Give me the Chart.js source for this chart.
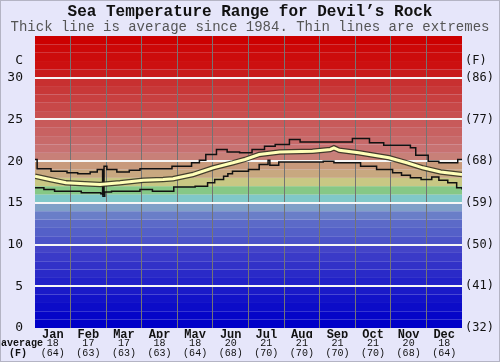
<!DOCTYPE html>
<html>
<head>
<meta charset="utf-8">
<script src="https://cdn.jsdelivr.net/npm/chart.js@4"></script>
<style>
  html, body { margin: 0; padding: 0; background: #e6e6fa; }
</style>
</head>
<body>
<canvas id="seaTemp" width="500" height="362"></canvas>
<script>
// MONTH LABELS AND MONTHLY AVERAGES
const months = ['Jan', 'Feb', 'Mar', 'Apr', 'May', 'Jun', 'Jul', 'Aug', 'Sep', 'Oct', 'Nov', 'Dec'];
const avgC = [18, 17, 17, 18, 18, 20, 21, 21, 21, 21, 20, 18];
const avgF = [64, 63, 63, 63, 64, 68, 70, 70, 70, 70, 68, 64];

// Y TICKS (C on the left, F on the right)
const cTicks = [0, 5, 10, 15, 20, 25, 30];
const fTicks = ['(32)', '(41)', '(50)', '(59)', '(68)', '(77)', '(86)'];

// DAILY LINES, x is position in months (0 = 1 Jan, 12 = 31 Dec)
const maxX = [0.00, 0.06, 0.45, 0.90, 1.20, 1.55, 1.75, 1.90, 1.94, 2.02, 2.30, 2.65, 2.95, 3.50, 3.85, 4.40, 4.62, 4.80,
              5.10, 5.40, 5.75, 6.10, 6.45, 6.75, 7.15, 7.45, 8.10, 8.92, 9.40, 9.80, 10.55, 10.70, 11.05, 11.35, 11.88, 12.00];
const maxT = [20.2, 19.1, 18.8, 18.6, 18.5, 18.7, 19.0, 16.0, 19.4, 19.0, 18.7, 18.9, 19.1, 19.1, 19.4, 19.8, 20.1, 20.8,
              21.4, 21.1, 21.0, 21.4, 21.8, 22.0, 22.6, 22.3, 22.3, 22.7, 22.2, 21.9, 21.6, 20.7, 20.0, 19.8, 20.2, 20.2];

const avgX = [0.00, 0.42, 0.87, 1.40, 1.83, 2.39, 3.04, 3.60, 3.88, 4.44, 5.00, 5.56, 5.90, 6.30, 6.88, 7.80,
              8.30, 8.40, 8.55, 9.10, 9.95, 10.45, 10.90, 11.40, 12.00];
const avgT = [18.2, 17.8, 17.4, 17.3, 17.2, 17.4, 17.7, 17.8, 17.9, 18.4, 19.2, 19.8, 20.2, 20.8, 21.1, 21.2,
              21.4, 21.6, 21.3, 21.0, 20.4, 19.8, 19.2, 18.7, 18.4];

const minX = [0.00, 0.25, 0.55, 1.30, 1.85, 1.91, 1.96, 2.15, 2.95, 3.30, 3.90, 4.50, 4.85, 5.05, 5.30, 5.42, 5.55, 6.00, 6.30,
              6.55, 6.60, 6.85, 8.10, 8.40, 9.15, 9.60, 10.05, 10.30, 10.55, 10.85, 11.15, 11.35, 11.60, 11.85, 12.00];
const minT = [16.8, 16.6, 16.4, 16.2, 16.1, 15.8, 16.3, 16.4, 16.6, 16.4, 16.9, 17.0, 17.4, 17.8, 18.2, 18.5, 18.8, 19.0, 19.6,
              20.1, 19.5, 19.9, 20.0, 19.8, 19.4, 19.0, 18.6, 18.3, 18.0, 17.8, 18.1, 17.7, 17.4, 16.8, 16.6];

// one colour per degree, 0-1 at the start
const bandColors = [
  '#0000c8', '#0606c8', '#0c0cc8', '#1212c8', '#1a1ac8',
  '#2222c8', '#2a2ac8', '#3232c8', '#3a3ac8', '#4444c8',
  '#4c54c8', '#5460c8', '#5c6ac8', '#6a7ec8', '#80a0c8',
  '#80c8c8', '#86c886', '#c8c884', '#c8a880', '#c89a7c',
  '#c88078', '#c87272', '#c86a6a', '#c86262', '#c85a5a',
  '#c85050', '#c84848', '#c84040', '#c83838', '#c83030',
  '#c81c1c', '#cc1010', '#cc0c0c', '#cc0808', '#cc0000'
];

const pts = (xs, ys) => xs.map((x, i) => ({ x: x, y: ys[i] }));
const monthCenters = s => { s.ticks = months.map((m, i) => ({ value: i + 0.5 })); };

const bandPlugin = {
  id: 'bands',
  beforeDraw(chart) {
    const { ctx, chartArea: a, scales: { y } } = chart;
    ctx.save();
    bandColors.forEach((c, i) => {
      const top = y.getPixelForValue(i + 1);
      const bottom = y.getPixelForValue(i);
      ctx.fillStyle = c;
      ctx.fillRect(a.left, top, a.right - a.left, bottom - top);
    });
    ctx.restore();
  },
  afterDraw(chart) {
    const { ctx, scales: { x2 } } = chart;
    ctx.save();
    ctx.font = 'bold 10px "Liberation Mono"';
    ctx.fillStyle = '#111';
    ctx.textAlign = 'center';
    ctx.textBaseline = 'middle';
    ctx.fillText('average', 22, x2.top + 5);
    ctx.fillText('(F)', 18, x2.top + 15);
    // thin frame round the picture
    ctx.strokeStyle = '#b4b4c4';
    ctx.lineWidth = 1;
    ctx.strokeRect(0.5, 0.5, chart.width - 1, chart.height - 1);
    ctx.restore();
  }
};

new Chart(document.getElementById('seaTemp'), {
  type: 'line',
  data: {
    datasets: [
      { label: 'Average', data: pts(avgX, avgT), borderColor: '#ffffb8', borderWidth: 3, pointRadius: 0, order: 0 },
      { label: 'Average edge', data: pts(avgX, avgT), borderColor: 'rgba(45,45,30,0.85)', borderWidth: 5.5, pointRadius: 0, order: 1 },
      { label: 'Max', data: pts(maxX, maxT), borderColor: '#111', borderWidth: 1.5, stepped: true, pointRadius: 0, order: 2 },
      { label: 'Min', data: pts(minX, minT), borderColor: '#111', borderWidth: 1.5, stepped: true, pointRadius: 0, order: 2 }
    ]
  },
  options: {
    responsive: false,
    animation: false,
    events: [],
    layout: { padding: 0 },
    plugins: {
      legend: { display: false },
      tooltip: { enabled: false },
      title: {
        display: true,
        text: 'Sea Temperature Range for Devil’s Rock',
        color: '#111',
        font: { family: 'Liberation Mono', size: 16, weight: 'bold', lineHeight: 1 },
        padding: { top: 4, bottom: 0 }
      },
      subtitle: {
        display: true,
        text: 'Thick line is average since 1984. Thin lines are extremes',
        color: '#555',
        font: { family: 'Liberation Mono', size: 14, lineHeight: 1 },
        padding: { top: 0, bottom: 2 }
      }
    },
    scales: {
      x: {
        type: 'linear', min: 0, max: 12, position: 'bottom', weight: 0,
        afterBuildTicks: monthCenters,
        afterFit: s => { s.height = 10; },
        ticks: {
          autoSkip: false, maxRotation: 0, padding: 0, color: '#111',
          font: { family: 'Liberation Mono', size: 12, weight: 'bold', lineHeight: 1.1 },
          callback: (v, i) => months[i]
        },
        grid: {
          offset: true, drawTicks: false, lineWidth: 1,
          color: c => (c.index > 0 && c.index < 12) ? '#747474' : 'rgba(0,0,0,0)'
        },
        border: { display: false }
      },
      x2: {
        type: 'linear', min: 0, max: 12, position: 'bottom', weight: 1,
        afterBuildTicks: monthCenters,
        afterFit: s => { s.height = 24; },
        ticks: {
          autoSkip: false, maxRotation: 0, padding: 0, color: '#111',
          font: { family: 'Liberation Mono', size: 10, lineHeight: 1 },
          callback: (v, i) => [String(avgC[i]), '(' + avgF[i] + ')']
        },
        grid: { display: false, drawTicks: false },
        border: { display: false }
      },
      y: {
        position: 'left', min: 0, max: 35,
        afterBuildTicks: s => { s.ticks = cTicks.concat([32]).map(v => ({ value: v })); },
        afterFit: s => { s.width = 35; },
        ticks: {
          autoSkip: false, padding: 12, color: '#111',
          font: { family: 'DejaVu Sans Mono', size: 13 },
          callback: v => v === 32 ? 'C' : String(v)
        },
        grid: {
          drawTicks: false, lineWidth: 2,
          color: c => (c.tick && c.tick.value > 0 && c.tick.value <= 30) ? '#f6f6f6' : 'rgba(0,0,0,0)'
        },
        border: { display: false }
      },
      y2: {
        position: 'right', min: 0, max: 35,
        afterBuildTicks: s => { s.ticks = cTicks.concat([32]).map(v => ({ value: v })); },
        afterFit: s => { s.width = 38; },
        ticks: {
          autoSkip: false, padding: 3, color: '#111',
          font: { family: 'DejaVu Sans Mono', size: 12 },
          callback: (v, i) => v === 32 ? '(F)' : fTicks[i]
        },
        grid: { display: false, drawTicks: false },
        border: { display: false }
      }
    }
  },
  plugins: [bandPlugin]
});
</script>
</body>
</html>
